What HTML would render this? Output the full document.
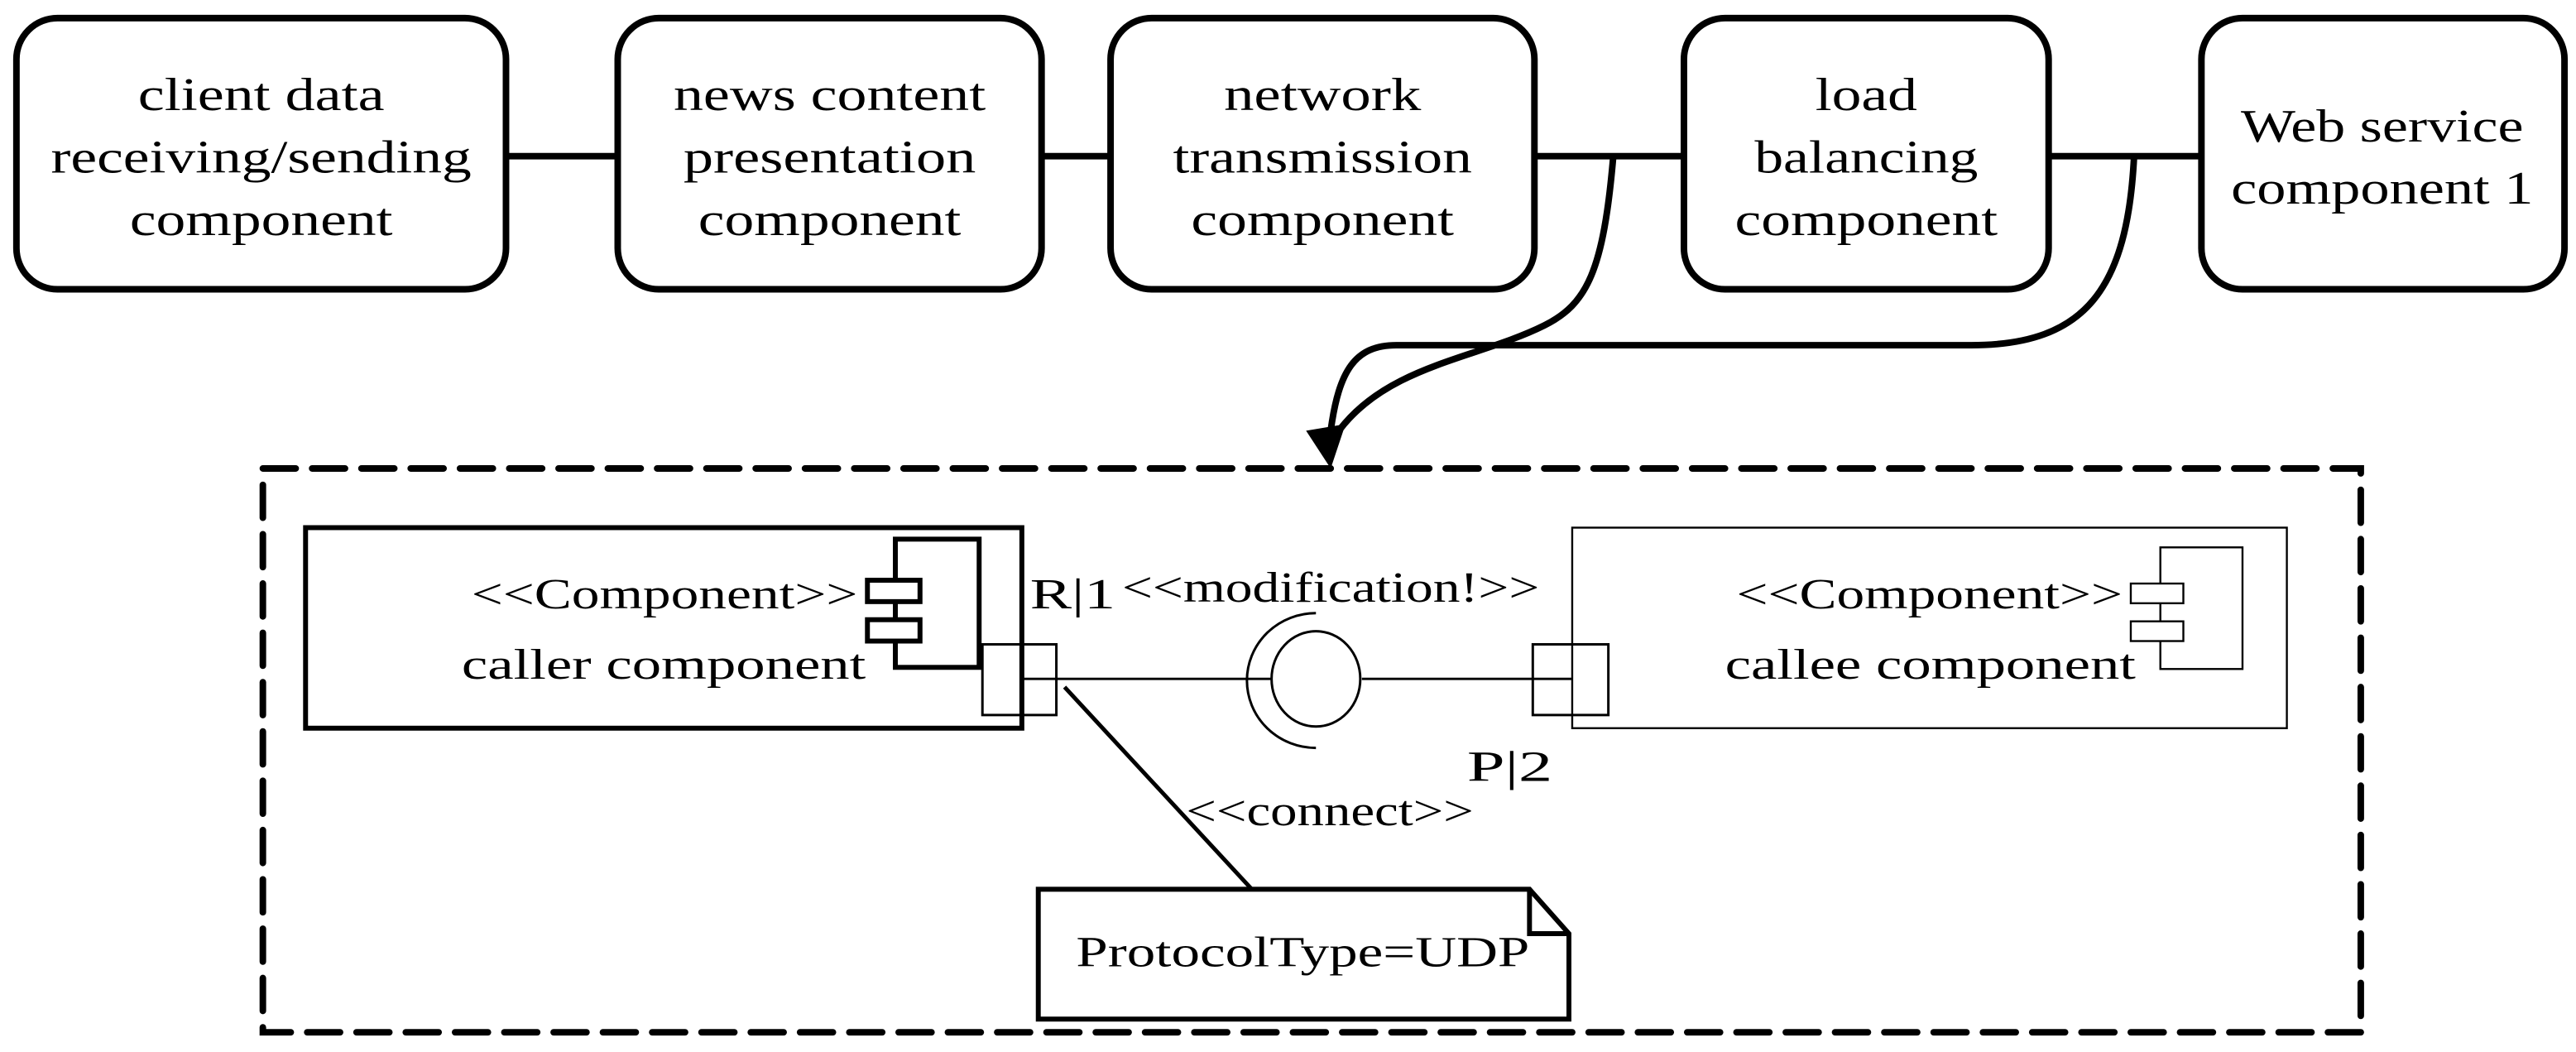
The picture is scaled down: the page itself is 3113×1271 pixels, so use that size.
<!DOCTYPE html>
<html><head><style>html,body{margin:0;padding:0;background:#fff}svg{display:block}</style></head>
<body>
<svg width="3113" height="1271" viewBox="0 0 1568 640" preserveAspectRatio="none" xmlns="http://www.w3.org/2000/svg" style="font-family:'Liberation Serif', serif" fill="none" stroke="#000">
<g stroke-width="4">
<rect x="10" y="11" width="298" height="165" rx="25"/>
<rect x="376" y="11" width="258" height="165" rx="25"/>
<rect x="676" y="11" width="258" height="165" rx="25"/>
<rect x="1025" y="11" width="222" height="165" rx="25"/>
<rect x="1340" y="11" width="221" height="165" rx="25"/>
<line x1="308" y1="95" x2="376" y2="95"/>
<line x1="634" y1="95" x2="676" y2="95"/>
<line x1="934" y1="95" x2="1025" y2="95"/>
<line x1="1247" y1="95" x2="1340" y2="95"/>
<path d="M982,95 C976,165 966,185 940,198 C900,218 845,222 815,262"/>
<path d="M1299,95 C1295,175 1270,210 1200,210 L850,210 C825,210 815,225 810,262"/>
</g>
<polygon points="795,262 810,285 819,258" fill="#000" stroke="none"/>
<rect x="160" y="285" width="1277" height="343" stroke-width="4" stroke-dasharray="20,10" stroke-linecap="round"/>
<g fill="#000" stroke="none" font-size="28" text-anchor="middle">
<text x="159" y="67" textLength="150" lengthAdjust="spacingAndGlyphs">client data</text>
<text x="159" y="105" textLength="256" lengthAdjust="spacingAndGlyphs">receiving/sending</text>
<text x="159" y="143" textLength="160" lengthAdjust="spacingAndGlyphs">component</text>
<text x="505" y="67" textLength="190" lengthAdjust="spacingAndGlyphs">news content</text>
<text x="505" y="105" textLength="178" lengthAdjust="spacingAndGlyphs">presentation</text>
<text x="505" y="143" textLength="160" lengthAdjust="spacingAndGlyphs">component</text>
<text x="805" y="67" textLength="120" lengthAdjust="spacingAndGlyphs">network</text>
<text x="805" y="105" textLength="182" lengthAdjust="spacingAndGlyphs">transmission</text>
<text x="805" y="143" textLength="160" lengthAdjust="spacingAndGlyphs">component</text>
<text x="1136" y="67" textLength="62" lengthAdjust="spacingAndGlyphs">load</text>
<text x="1136" y="105" textLength="136" lengthAdjust="spacingAndGlyphs">balancing</text>
<text x="1136" y="143" textLength="160" lengthAdjust="spacingAndGlyphs">component</text>
<text x="1450" y="86" textLength="172" lengthAdjust="spacingAndGlyphs">Web service</text>
<text x="1450" y="124" textLength="184" lengthAdjust="spacingAndGlyphs">component 1</text>
</g>
<rect x="186" y="321" width="436" height="122" stroke-width="3"/>
<rect x="545" y="328" width="51" height="78" stroke-width="3"/>
<rect x="528" y="353" width="32" height="13" stroke-width="3" fill="#fff"/>
<rect x="528" y="377" width="32" height="13" stroke-width="3" fill="#fff"/>
<rect x="598" y="392" width="45" height="43" stroke-width="1.5"/>
<rect x="957" y="321" width="435" height="122" stroke-width="1.2"/>
<rect x="1315" y="333" width="50" height="74" stroke-width="1.2"/>
<rect x="1297" y="355" width="32" height="12" stroke-width="1.2" fill="#fff"/>
<rect x="1297" y="378" width="32" height="12" stroke-width="1.2" fill="#fff"/>
<rect x="933" y="392" width="46" height="43" stroke-width="1.5"/>
<g stroke-width="1.5">
<line x1="622" y1="413" x2="774" y2="413"/>
<line x1="829" y1="413" x2="957" y2="413"/>
<ellipse cx="801" cy="413" rx="27" ry="29"/>
<path d="M801,373 A42,41 0 0 0 801,455"/>
</g>
<line x1="648" y1="418" x2="762" y2="541" stroke-width="2.5"/>
<path d="M632,541 L931,541 L955,568 L955,620 L632,620 Z M931,541 L931,568 L955,568" stroke-width="3" fill="#fff"/>
<g fill="#000" stroke="none" font-size="26">
<text x="287" y="370" textLength="235" lengthAdjust="spacingAndGlyphs">&lt;&lt;Component&gt;&gt;</text>
<text x="281" y="413" textLength="246" lengthAdjust="spacingAndGlyphs">caller component</text>
<text x="1057" y="370" textLength="235" lengthAdjust="spacingAndGlyphs">&lt;&lt;Component&gt;&gt;</text>
<text x="1050" y="413" textLength="250" lengthAdjust="spacingAndGlyphs">callee component</text>
<text x="627" y="370" textLength="52" lengthAdjust="spacingAndGlyphs">R|1</text>
<text x="683" y="366" textLength="254" lengthAdjust="spacingAndGlyphs">&lt;&lt;modification!&gt;&gt;</text>
<text x="893" y="475" textLength="52" lengthAdjust="spacingAndGlyphs">P|2</text>
<text x="722" y="502" textLength="175" lengthAdjust="spacingAndGlyphs">&lt;&lt;connect&gt;&gt;</text>
<text x="655" y="588" textLength="276" lengthAdjust="spacingAndGlyphs">ProtocolType=UDP</text>
</g>
</svg>
</body></html>
